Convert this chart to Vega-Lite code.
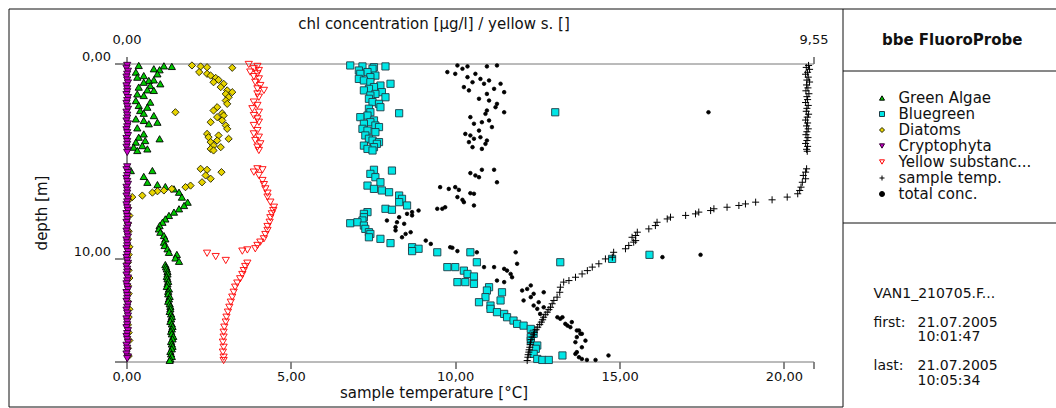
{
"$schema":"https://vega.github.io/schema/vega-lite/v6.json",
"usermeta":{"embedOptions":{"actions":false}},
"padding":{"left":7.5,"top":7.5,"right":0,"bottom":0},
"background":"white",
"config":{"font":"DejaVu Sans","view":{"stroke":null},
"axis":{"labelFont":"DejaVu Sans","labelFontSize":13,"labelColor":"#111","titleFont":"DejaVu Sans","titleFontSize":15,"titleFontWeight":"normal","titleColor":"#111","tickColor":"#111","grid":false,"labelFlush":false}},
"datasets":{
"chl":[
{"series":"Green Algae","depth":0.10,"value":0.17},{"series":"Green Algae","depth":0.12,"value":0.52},{"series":"Green Algae","depth":0.15,"value":0.63},{"series":"Green Algae","depth":0.27,"value":0.38},{"series":"Green Algae","depth":0.32,"value":0.46},{"series":"Green Algae","depth":0.44,"value":0.13},{"series":"Green Algae","depth":0.53,"value":0.43},{"series":"Green Algae","depth":0.62,"value":0.24},{"series":"Green Algae","depth":0.70,"value":0.15},{"series":"Green Algae","depth":0.84,"value":0.38},{"series":"Green Algae","depth":0.87,"value":0.31},{"series":"Green Algae","depth":0.96,"value":0.24},{"series":"Green Algae","depth":1.04,"value":0.47},{"series":"Green Algae","depth":1.13,"value":0.33},{"series":"Green Algae","depth":1.21,"value":0.17},{"series":"Green Algae","depth":1.35,"value":0.29},{"series":"Green Algae","depth":1.38,"value":0.38},{"series":"Green Algae","depth":1.56,"value":0.15},{"series":"Green Algae","depth":1.64,"value":0.24},{"series":"Green Algae","depth":1.90,"value":0.13},{"series":"Green Algae","depth":1.98,"value":0.33},{"series":"Green Algae","depth":2.15,"value":0.17},{"series":"Green Algae","depth":2.24,"value":0.29},{"series":"Green Algae","depth":2.41,"value":0.19},{"series":"Green Algae","depth":2.55,"value":0.24},{"series":"Green Algae","depth":2.67,"value":0.38},{"series":"Green Algae","depth":2.84,"value":0.13},{"series":"Green Algae","depth":2.92,"value":0.24},{"series":"Green Algae","depth":3.01,"value":0.43},{"series":"Green Algae","depth":3.09,"value":0.31},{"series":"Green Algae","depth":3.30,"value":0.15},{"series":"Green Algae","depth":3.61,"value":0.24},{"series":"Green Algae","depth":3.78,"value":0.17},{"series":"Green Algae","depth":3.86,"value":0.46},{"series":"Green Algae","depth":3.95,"value":0.26},{"series":"Green Algae","depth":4.03,"value":0.13},{"series":"Green Algae","depth":4.21,"value":0.22},{"series":"Green Algae","depth":4.29,"value":0.10},{"series":"Green Algae","depth":4.38,"value":0.29},{"series":"Green Algae","depth":4.46,"value":0.15},
{"series":"Green Algae","depth":5.49,"value":0.06},{"series":"Green Algae","depth":5.49,"value":0.36},{"series":"Green Algae","depth":5.79,"value":0.24},{"series":"Green Algae","depth":6.09,"value":0.29},{"series":"Green Algae","depth":6.21,"value":0.43},{"series":"Green Algae","depth":6.31,"value":0.54},{"series":"Green Algae","depth":6.43,"value":0.66},{"series":"Green Algae","depth":6.60,"value":0.73},{"series":"Green Algae","depth":6.85,"value":0.77},{"series":"Green Algae","depth":7.11,"value":0.85},{"series":"Green Algae","depth":7.28,"value":0.80},{"series":"Green Algae","depth":7.45,"value":0.73},{"series":"Green Algae","depth":7.62,"value":0.66},{"series":"Green Algae","depth":7.79,"value":0.59},{"series":"Green Algae","depth":7.97,"value":0.54},{"series":"Green Algae","depth":8.14,"value":0.50},{"series":"Green Algae","depth":8.31,"value":0.46},{"series":"Green Algae","depth":8.48,"value":0.45},{"series":"Green Algae","depth":8.65,"value":0.47},{"series":"Green Algae","depth":8.82,"value":0.52},{"series":"Green Algae","depth":8.99,"value":0.54},{"series":"Green Algae","depth":9.16,"value":0.52},{"series":"Green Algae","depth":9.33,"value":0.53},{"series":"Green Algae","depth":9.50,"value":0.57},{"series":"Green Algae","depth":9.68,"value":0.59},{"series":"Green Algae","depth":9.79,"value":0.70},{"series":"Green Algae","depth":9.97,"value":0.68},{"series":"Green Algae","depth":10.14,"value":0.73},{"series":"Green Algae","depth":10.31,"value":0.54},{"series":"Green Algae","depth":10.42,"value":0.55},{"series":"Green Algae","depth":10.53,"value":0.56},{"series":"Green Algae","depth":10.66,"value":0.57},{"series":"Green Algae","depth":10.79,"value":0.57},{"series":"Green Algae","depth":10.92,"value":0.56},{"series":"Green Algae","depth":11.04,"value":0.57},{"series":"Green Algae","depth":11.17,"value":0.58},{"series":"Green Algae","depth":11.30,"value":0.57},{"series":"Green Algae","depth":11.43,"value":0.56},{"series":"Green Algae","depth":11.56,"value":0.59},{"series":"Green Algae","depth":11.68,"value":0.58},{"series":"Green Algae","depth":11.81,"value":0.58},{"series":"Green Algae","depth":11.94,"value":0.60},{"series":"Green Algae","depth":12.07,"value":0.59},{"series":"Green Algae","depth":12.19,"value":0.58},{"series":"Green Algae","depth":12.32,"value":0.60},{"series":"Green Algae","depth":12.45,"value":0.61},{"series":"Green Algae","depth":12.58,"value":0.61},{"series":"Green Algae","depth":12.71,"value":0.60},{"series":"Green Algae","depth":12.84,"value":0.62},{"series":"Green Algae","depth":12.97,"value":0.63},{"series":"Green Algae","depth":13.09,"value":0.62},{"series":"Green Algae","depth":13.22,"value":0.61},{"series":"Green Algae","depth":13.35,"value":0.63},{"series":"Green Algae","depth":13.48,"value":0.64},{"series":"Green Algae","depth":13.61,"value":0.63},{"series":"Green Algae","depth":13.73,"value":0.62},{"series":"Green Algae","depth":13.86,"value":0.63},{"series":"Green Algae","depth":13.99,"value":0.65},{"series":"Green Algae","depth":14.12,"value":0.64},{"series":"Green Algae","depth":14.25,"value":0.62},{"series":"Green Algae","depth":14.38,"value":0.63},{"series":"Green Algae","depth":14.50,"value":0.64},{"series":"Green Algae","depth":14.63,"value":0.63},{"series":"Green Algae","depth":14.76,"value":0.61},{"series":"Green Algae","depth":14.89,"value":0.62},{"series":"Green Algae","depth":15.02,"value":0.63},{"series":"Green Algae","depth":15.15,"value":0.61},{"series":"Green Algae","depth":15.22,"value":0.60},
{"series":"Bluegreen","depth":0.10,"value":3.11},{"series":"Bluegreen","depth":0.15,"value":3.28},{"series":"Bluegreen","depth":0.19,"value":3.44},{"series":"Bluegreen","depth":0.15,"value":3.60},{"series":"Bluegreen","depth":0.27,"value":3.42},{"series":"Bluegreen","depth":0.36,"value":3.23},{"series":"Bluegreen","depth":0.44,"value":3.35},{"series":"Bluegreen","depth":0.53,"value":3.25},{"series":"Bluegreen","depth":0.62,"value":3.46},{"series":"Bluegreen","depth":0.70,"value":3.39},{"series":"Bluegreen","depth":0.79,"value":3.23},{"series":"Bluegreen","depth":0.87,"value":3.30},{"series":"Bluegreen","depth":0.96,"value":3.39},{"series":"Bluegreen","depth":1.04,"value":3.67},{"series":"Bluegreen","depth":1.13,"value":3.53},{"series":"Bluegreen","depth":1.21,"value":3.44},{"series":"Bluegreen","depth":1.30,"value":3.37},{"series":"Bluegreen","depth":1.38,"value":3.30},{"series":"Bluegreen","depth":1.47,"value":3.55},{"series":"Bluegreen","depth":1.56,"value":3.46},{"series":"Bluegreen","depth":1.64,"value":3.39},{"series":"Bluegreen","depth":1.73,"value":3.60},{"series":"Bluegreen","depth":1.81,"value":3.37},{"series":"Bluegreen","depth":1.98,"value":3.42},{"series":"Bluegreen","depth":2.07,"value":3.51},{"series":"Bluegreen","depth":2.24,"value":3.53},{"series":"Bluegreen","depth":2.32,"value":3.37},{"series":"Bluegreen","depth":2.50,"value":3.39},{"series":"Bluegreen","depth":2.55,"value":3.79},{"series":"Bluegreen","depth":2.50,"value":5.96},{"series":"Bluegreen","depth":2.67,"value":3.35},{"series":"Bluegreen","depth":2.75,"value":3.25},{"series":"Bluegreen","depth":2.92,"value":3.44},{"series":"Bluegreen","depth":3.01,"value":3.39},{"series":"Bluegreen","depth":3.09,"value":3.30},{"series":"Bluegreen","depth":3.18,"value":3.46},{"series":"Bluegreen","depth":3.26,"value":3.51},{"series":"Bluegreen","depth":3.35,"value":3.28},{"series":"Bluegreen","depth":3.44,"value":3.35},{"series":"Bluegreen","depth":3.52,"value":3.46},{"series":"Bluegreen","depth":3.69,"value":3.32},{"series":"Bluegreen","depth":3.86,"value":3.37},{"series":"Bluegreen","depth":3.95,"value":3.42},{"series":"Bluegreen","depth":4.03,"value":3.51},{"series":"Bluegreen","depth":4.12,"value":3.48},{"series":"Bluegreen","depth":4.21,"value":3.30},{"series":"Bluegreen","depth":4.29,"value":3.44},{"series":"Bluegreen","depth":4.38,"value":3.35},{"series":"Bluegreen","depth":4.46,"value":3.42},
{"series":"Bluegreen","depth":5.45,"value":3.44},{"series":"Bluegreen","depth":5.49,"value":3.69},{"series":"Bluegreen","depth":5.66,"value":3.39},{"series":"Bluegreen","depth":5.83,"value":3.46},{"series":"Bluegreen","depth":6.09,"value":3.53},{"series":"Bluegreen","depth":6.26,"value":3.35},{"series":"Bluegreen","depth":6.43,"value":3.44},{"series":"Bluegreen","depth":6.51,"value":3.55},{"series":"Bluegreen","depth":6.60,"value":3.65},{"series":"Bluegreen","depth":6.77,"value":3.79},{"series":"Bluegreen","depth":6.94,"value":3.83},{"series":"Bluegreen","depth":7.11,"value":3.79},{"series":"Bluegreen","depth":7.28,"value":3.90},{"series":"Bluegreen","depth":7.45,"value":3.60},{"series":"Bluegreen","depth":7.50,"value":3.69},{"series":"Bluegreen","depth":7.62,"value":3.35},{"series":"Bluegreen","depth":7.71,"value":3.30},{"series":"Bluegreen","depth":7.88,"value":3.30},{"series":"Bluegreen","depth":8.05,"value":3.28},{"series":"Bluegreen","depth":8.19,"value":3.11},{"series":"Bluegreen","depth":8.14,"value":3.21},{"series":"Bluegreen","depth":8.31,"value":3.30},{"series":"Bluegreen","depth":8.48,"value":3.32},{"series":"Bluegreen","depth":8.65,"value":3.37},{"series":"Bluegreen","depth":8.74,"value":3.39},{"series":"Bluegreen","depth":8.91,"value":3.37},{"series":"Bluegreen","depth":8.99,"value":3.53},{"series":"Bluegreen","depth":9.21,"value":3.67},{"series":"Bluegreen","depth":9.42,"value":3.97},{"series":"Bluegreen","depth":9.50,"value":4.06},{"series":"Bluegreen","depth":9.62,"value":3.97},{"series":"Bluegreen","depth":9.68,"value":4.32},{"series":"Bluegreen","depth":9.68,"value":4.78},{"series":"Bluegreen","depth":9.81,"value":7.27},{"series":"Bluegreen","depth":10.02,"value":6.75},{"series":"Bluegreen","depth":10.19,"value":6.03},{"series":"Bluegreen","depth":10.19,"value":4.87},{"series":"Bluegreen","depth":10.44,"value":4.46},{"series":"Bluegreen","depth":10.44,"value":4.57},{"series":"Bluegreen","depth":10.62,"value":4.69},{"series":"Bluegreen","depth":10.79,"value":4.74},{"series":"Bluegreen","depth":10.92,"value":4.83},{"series":"Bluegreen","depth":11.21,"value":4.60},{"series":"Bluegreen","depth":11.21,"value":4.71},{"series":"Bluegreen","depth":11.30,"value":4.83},{"series":"Bluegreen","depth":11.47,"value":5.04},{"series":"Bluegreen","depth":11.64,"value":5.01},{"series":"Bluegreen","depth":11.73,"value":5.22},{"series":"Bluegreen","depth":11.98,"value":4.99},{"series":"Bluegreen","depth":12.15,"value":5.20},{"series":"Bluegreen","depth":12.24,"value":4.90},{"series":"Bluegreen","depth":12.41,"value":5.06},{"series":"Bluegreen","depth":12.58,"value":5.06},{"series":"Bluegreen","depth":12.75,"value":5.15},{"series":"Bluegreen","depth":12.84,"value":5.25},{"series":"Bluegreen","depth":13.01,"value":5.29},{"series":"Bluegreen","depth":13.18,"value":5.38},{"series":"Bluegreen","depth":13.35,"value":5.43},{"series":"Bluegreen","depth":13.44,"value":5.52},{"series":"Bluegreen","depth":13.61,"value":5.62},{"series":"Bluegreen","depth":13.86,"value":5.66},{"series":"Bluegreen","depth":14.03,"value":5.62},{"series":"Bluegreen","depth":14.21,"value":5.62},{"series":"Bluegreen","depth":14.46,"value":5.71},{"series":"Bluegreen","depth":14.63,"value":5.69},{"series":"Bluegreen","depth":14.89,"value":5.66},{"series":"Bluegreen","depth":14.97,"value":6.06},{"series":"Bluegreen","depth":15.15,"value":5.71},{"series":"Bluegreen","depth":15.20,"value":5.78},{"series":"Bluegreen","depth":15.20,"value":5.87},
{"series":"Diatoms","depth":0.10,"value":0.91},{"series":"Diatoms","depth":0.15,"value":1.03},{"series":"Diatoms","depth":0.19,"value":1.12},{"series":"Diatoms","depth":0.22,"value":1.47},{"series":"Diatoms","depth":0.44,"value":1.01},{"series":"Diatoms","depth":0.53,"value":1.12},{"series":"Diatoms","depth":0.62,"value":1.17},{"series":"Diatoms","depth":0.74,"value":1.24},{"series":"Diatoms","depth":0.84,"value":1.28},{"series":"Diatoms","depth":0.96,"value":1.21},{"series":"Diatoms","depth":1.04,"value":1.35},{"series":"Diatoms","depth":1.21,"value":1.31},{"series":"Diatoms","depth":1.38,"value":1.40},{"series":"Diatoms","depth":1.47,"value":1.47},{"series":"Diatoms","depth":1.56,"value":1.38},{"series":"Diatoms","depth":1.73,"value":1.42},{"series":"Diatoms","depth":1.90,"value":1.38},{"series":"Diatoms","depth":2.07,"value":1.40},{"series":"Diatoms","depth":2.24,"value":1.26},{"series":"Diatoms","depth":2.41,"value":1.21},{"series":"Diatoms","depth":2.50,"value":0.68},{"series":"Diatoms","depth":2.55,"value":1.33},{"series":"Diatoms","depth":2.67,"value":1.35},{"series":"Diatoms","depth":2.75,"value":1.26},{"series":"Diatoms","depth":2.92,"value":1.33},{"series":"Diatoms","depth":3.01,"value":1.17},{"series":"Diatoms","depth":3.18,"value":1.38},{"series":"Diatoms","depth":3.35,"value":1.40},{"series":"Diatoms","depth":3.61,"value":1.12},{"series":"Diatoms","depth":3.69,"value":1.28},{"series":"Diatoms","depth":3.78,"value":1.14},{"series":"Diatoms","depth":3.86,"value":1.42},{"series":"Diatoms","depth":3.95,"value":1.26},{"series":"Diatoms","depth":4.03,"value":1.17},{"series":"Diatoms","depth":4.21,"value":1.21},{"series":"Diatoms","depth":4.29,"value":1.31},{"series":"Diatoms","depth":4.38,"value":1.17},{"series":"Diatoms","depth":4.46,"value":1.21},
{"series":"Diatoms","depth":5.40,"value":1.03},{"series":"Diatoms","depth":5.45,"value":1.12},{"series":"Diatoms","depth":5.57,"value":1.32},{"series":"Diatoms","depth":5.74,"value":1.10},{"series":"Diatoms","depth":5.91,"value":1.17},{"series":"Diatoms","depth":6.09,"value":1.05},{"series":"Diatoms","depth":6.26,"value":0.89},{"series":"Diatoms","depth":6.34,"value":0.82},{"series":"Diatoms","depth":6.43,"value":0.63},{"series":"Diatoms","depth":6.51,"value":0.52},{"series":"Diatoms","depth":6.55,"value":0.43},{"series":"Diatoms","depth":6.62,"value":0.36},{"series":"Diatoms","depth":6.77,"value":0.22},{"series":"Diatoms","depth":6.85,"value":0.08},{"series":"Diatoms","depth":7.0,"value":0.03},{"series":"Diatoms","depth":7.4,"value":0.02},{"series":"Diatoms","depth":7.8,"value":0.04},{"series":"Diatoms","depth":8.2,"value":0.02},{"series":"Diatoms","depth":8.6,"value":0.03},{"series":"Diatoms","depth":9.0,"value":0.02},{"series":"Diatoms","depth":9.4,"value":0.04},{"series":"Diatoms","depth":9.8,"value":0.03},{"series":"Diatoms","depth":10.2,"value":0.02},{"series":"Diatoms","depth":10.6,"value":0.03},{"series":"Diatoms","depth":11.0,"value":0.04},{"series":"Diatoms","depth":11.4,"value":0.02},{"series":"Diatoms","depth":11.8,"value":0.03},{"series":"Diatoms","depth":12.2,"value":0.02},{"series":"Diatoms","depth":12.6,"value":0.04},{"series":"Diatoms","depth":13.0,"value":0.03},{"series":"Diatoms","depth":13.4,"value":0.02},{"series":"Diatoms","depth":13.8,"value":0.03},{"series":"Diatoms","depth":14.2,"value":0.04},{"series":"Diatoms","depth":14.6,"value":0.02},{"series":"Diatoms","depth":15.0,"value":0.03},
{"series":"Cryptophyta","depth":0.10,"value":0.01},{"series":"Cryptophyta","depth":0.25,"value":0.00},{"series":"Cryptophyta","depth":0.40,"value":0.02},{"series":"Cryptophyta","depth":0.55,"value":0.01},{"series":"Cryptophyta","depth":0.70,"value":0.00},{"series":"Cryptophyta","depth":0.85,"value":0.01},{"series":"Cryptophyta","depth":1.00,"value":0.02},{"series":"Cryptophyta","depth":1.15,"value":0.00},{"series":"Cryptophyta","depth":1.30,"value":0.01},{"series":"Cryptophyta","depth":1.45,"value":0.01},{"series":"Cryptophyta","depth":1.60,"value":0.00},{"series":"Cryptophyta","depth":1.75,"value":0.02},{"series":"Cryptophyta","depth":1.90,"value":0.01},{"series":"Cryptophyta","depth":2.05,"value":0.00},{"series":"Cryptophyta","depth":2.20,"value":0.01},{"series":"Cryptophyta","depth":2.35,"value":0.02},{"series":"Cryptophyta","depth":2.50,"value":0.00},{"series":"Cryptophyta","depth":2.65,"value":0.01},{"series":"Cryptophyta","depth":2.80,"value":0.01},{"series":"Cryptophyta","depth":2.95,"value":0.00},{"series":"Cryptophyta","depth":3.10,"value":0.02},{"series":"Cryptophyta","depth":3.25,"value":0.01},{"series":"Cryptophyta","depth":3.40,"value":0.00},{"series":"Cryptophyta","depth":3.55,"value":0.01},{"series":"Cryptophyta","depth":3.70,"value":0.02},{"series":"Cryptophyta","depth":3.85,"value":0.00},{"series":"Cryptophyta","depth":4.00,"value":0.01},{"series":"Cryptophyta","depth":4.15,"value":0.01},{"series":"Cryptophyta","depth":4.30,"value":0.00},{"series":"Cryptophyta","depth":4.45,"value":0.02},{"series":"Cryptophyta","depth":4.56,"value":0.01},
{"series":"Cryptophyta","depth":5.30,"value":0.01},{"series":"Cryptophyta","depth":5.45,"value":0.00},{"series":"Cryptophyta","depth":5.60,"value":0.02},{"series":"Cryptophyta","depth":5.75,"value":0.01},{"series":"Cryptophyta","depth":5.90,"value":0.00},{"series":"Cryptophyta","depth":6.05,"value":0.01},{"series":"Cryptophyta","depth":6.20,"value":0.02},{"series":"Cryptophyta","depth":6.35,"value":0.00},{"series":"Cryptophyta","depth":6.50,"value":0.01},{"series":"Cryptophyta","depth":6.65,"value":0.01},{"series":"Cryptophyta","depth":6.80,"value":0.00},{"series":"Cryptophyta","depth":6.95,"value":0.02},{"series":"Cryptophyta","depth":7.10,"value":0.01},{"series":"Cryptophyta","depth":7.25,"value":0.00},{"series":"Cryptophyta","depth":7.40,"value":0.01},{"series":"Cryptophyta","depth":7.55,"value":0.02},{"series":"Cryptophyta","depth":7.70,"value":0.00},{"series":"Cryptophyta","depth":7.85,"value":0.01},{"series":"Cryptophyta","depth":8.00,"value":0.01},{"series":"Cryptophyta","depth":8.15,"value":0.00},{"series":"Cryptophyta","depth":8.30,"value":0.02},{"series":"Cryptophyta","depth":8.45,"value":0.01},{"series":"Cryptophyta","depth":8.60,"value":0.00},{"series":"Cryptophyta","depth":8.75,"value":0.01},{"series":"Cryptophyta","depth":8.90,"value":0.02},{"series":"Cryptophyta","depth":9.05,"value":0.00},{"series":"Cryptophyta","depth":9.20,"value":0.01},{"series":"Cryptophyta","depth":9.35,"value":0.01},{"series":"Cryptophyta","depth":9.50,"value":0.00},{"series":"Cryptophyta","depth":9.65,"value":0.02},{"series":"Cryptophyta","depth":9.80,"value":0.01},{"series":"Cryptophyta","depth":9.95,"value":0.00},{"series":"Cryptophyta","depth":10.10,"value":0.01},{"series":"Cryptophyta","depth":10.25,"value":0.02},{"series":"Cryptophyta","depth":10.40,"value":0.00},{"series":"Cryptophyta","depth":10.55,"value":0.01},{"series":"Cryptophyta","depth":10.70,"value":0.01},{"series":"Cryptophyta","depth":10.85,"value":0.00},{"series":"Cryptophyta","depth":11.00,"value":0.02},{"series":"Cryptophyta","depth":11.15,"value":0.01},{"series":"Cryptophyta","depth":11.30,"value":0.00},{"series":"Cryptophyta","depth":11.45,"value":0.01},{"series":"Cryptophyta","depth":11.60,"value":0.02},{"series":"Cryptophyta","depth":11.75,"value":0.00},{"series":"Cryptophyta","depth":11.90,"value":0.01},{"series":"Cryptophyta","depth":12.05,"value":0.01},{"series":"Cryptophyta","depth":12.20,"value":0.00},{"series":"Cryptophyta","depth":12.35,"value":0.02},{"series":"Cryptophyta","depth":12.50,"value":0.01},{"series":"Cryptophyta","depth":12.65,"value":0.00},{"series":"Cryptophyta","depth":12.80,"value":0.01},{"series":"Cryptophyta","depth":12.95,"value":0.02},{"series":"Cryptophyta","depth":13.10,"value":0.00},{"series":"Cryptophyta","depth":13.25,"value":0.01},{"series":"Cryptophyta","depth":13.40,"value":0.01},{"series":"Cryptophyta","depth":13.55,"value":0.00},{"series":"Cryptophyta","depth":13.70,"value":0.02},{"series":"Cryptophyta","depth":13.85,"value":0.01},{"series":"Cryptophyta","depth":14.00,"value":0.00},{"series":"Cryptophyta","depth":14.15,"value":0.01},{"series":"Cryptophyta","depth":14.30,"value":0.02},{"series":"Cryptophyta","depth":14.45,"value":0.00},{"series":"Cryptophyta","depth":14.60,"value":0.01},{"series":"Cryptophyta","depth":14.75,"value":0.01},{"series":"Cryptophyta","depth":14.90,"value":0.00},{"series":"Cryptophyta","depth":15.05,"value":0.02},{"series":"Cryptophyta","depth":15.13,"value":0.01},
{"series":"Yellow substance","depth":0.05,"value":1.70},{"series":"Yellow substance","depth":0.15,"value":1.82},{"series":"Yellow substance","depth":0.27,"value":1.77},{"series":"Yellow substance","depth":0.36,"value":1.84},{"series":"Yellow substance","depth":0.44,"value":1.72},{"series":"Yellow substance","depth":0.53,"value":1.82},{"series":"Yellow substance","depth":0.67,"value":1.77},{"series":"Yellow substance","depth":0.79,"value":1.84},{"series":"Yellow substance","depth":0.96,"value":1.79},{"series":"Yellow substance","depth":1.13,"value":1.86},{"series":"Yellow substance","depth":1.30,"value":1.82},{"series":"Yellow substance","depth":1.38,"value":1.91},{"series":"Yellow substance","depth":1.56,"value":1.82},{"series":"Yellow substance","depth":1.73,"value":1.84},{"series":"Yellow substance","depth":1.98,"value":1.77},{"series":"Yellow substance","depth":2.15,"value":1.82},{"series":"Yellow substance","depth":2.32,"value":1.75},{"series":"Yellow substance","depth":2.50,"value":1.84},{"series":"Yellow substance","depth":2.67,"value":1.77},{"series":"Yellow substance","depth":2.84,"value":1.82},{"series":"Yellow substance","depth":3.01,"value":1.84},{"series":"Yellow substance","depth":3.18,"value":1.77},{"series":"Yellow substance","depth":3.44,"value":1.82},{"series":"Yellow substance","depth":3.61,"value":1.77},{"series":"Yellow substance","depth":3.78,"value":1.84},{"series":"Yellow substance","depth":3.95,"value":1.79},{"series":"Yellow substance","depth":4.12,"value":1.86},{"series":"Yellow substance","depth":4.29,"value":1.82},{"series":"Yellow substance","depth":4.46,"value":1.84},
{"series":"Yellow substance","depth":5.40,"value":1.82},{"series":"Yellow substance","depth":5.45,"value":1.89},{"series":"Yellow substance","depth":5.57,"value":1.77},{"series":"Yellow substance","depth":5.74,"value":1.84},{"series":"Yellow substance","depth":6.00,"value":1.89},{"series":"Yellow substance","depth":6.21,"value":1.91},{"series":"Yellow substance","depth":6.43,"value":1.93},{"series":"Yellow substance","depth":6.65,"value":1.96},{"series":"Yellow substance","depth":6.85,"value":1.96},{"series":"Yellow substance","depth":7.11,"value":2.00},{"series":"Yellow substance","depth":7.37,"value":2.05},{"series":"Yellow substance","depth":7.54,"value":2.04},{"series":"Yellow substance","depth":7.71,"value":2.02},{"series":"Yellow substance","depth":7.91,"value":2.00},{"series":"Yellow substance","depth":8.14,"value":1.99},{"series":"Yellow substance","depth":8.36,"value":1.96},{"series":"Yellow substance","depth":8.56,"value":1.96},{"series":"Yellow substance","depth":8.77,"value":1.93},{"series":"Yellow substance","depth":8.99,"value":1.91},{"series":"Yellow substance","depth":9.16,"value":1.86},{"series":"Yellow substance","depth":9.33,"value":1.82},{"series":"Yellow substance","depth":9.50,"value":1.79},{"series":"Yellow substance","depth":9.56,"value":1.68},{"series":"Yellow substance","depth":9.62,"value":1.61},{"series":"Yellow substance","depth":9.73,"value":1.12},{"series":"Yellow substance","depth":9.90,"value":1.24},{"series":"Yellow substance","depth":10.10,"value":1.38},{"series":"Yellow substance","depth":10.24,"value":1.68},{"series":"Yellow substance","depth":10.41,"value":1.65},{"series":"Yellow substance","depth":10.62,"value":1.63},{"series":"Yellow substance","depth":10.82,"value":1.61},{"series":"Yellow substance","depth":11.04,"value":1.58},{"series":"Yellow substance","depth":11.26,"value":1.54},{"series":"Yellow substance","depth":11.47,"value":1.51},{"series":"Yellow substance","depth":11.73,"value":1.49},{"series":"Yellow substance","depth":11.98,"value":1.47},{"series":"Yellow substance","depth":12.24,"value":1.45},{"series":"Yellow substance","depth":12.50,"value":1.43},{"series":"Yellow substance","depth":12.75,"value":1.41},{"series":"Yellow substance","depth":13.01,"value":1.39},{"series":"Yellow substance","depth":13.26,"value":1.38},{"series":"Yellow substance","depth":13.52,"value":1.36},{"series":"Yellow substance","depth":13.78,"value":1.35},{"series":"Yellow substance","depth":14.03,"value":1.35},{"series":"Yellow substance","depth":14.29,"value":1.34},{"series":"Yellow substance","depth":14.55,"value":1.35},{"series":"Yellow substance","depth":14.80,"value":1.34},{"series":"Yellow substance","depth":15.06,"value":1.35},{"series":"Yellow substance","depth":15.23,"value":1.35}
],
"total":[
{"series":"total conc.","depth":0.10,"value":4.60},{"series":"total conc.","depth":0.15,"value":4.74},{"series":"total conc.","depth":0.15,"value":5.01},{"series":"total conc.","depth":0.10,"value":5.15},{"series":"total conc.","depth":0.27,"value":4.67},{"series":"total conc.","depth":0.44,"value":4.46},{"series":"total conc.","depth":0.53,"value":4.57},{"series":"total conc.","depth":0.53,"value":4.85},{"series":"total conc.","depth":0.70,"value":4.74},{"series":"total conc.","depth":0.79,"value":4.92},{"series":"total conc.","depth":0.87,"value":5.04},{"series":"total conc.","depth":0.96,"value":4.81},{"series":"total conc.","depth":1.04,"value":4.97},{"series":"total conc.","depth":1.04,"value":5.20},{"series":"total conc.","depth":1.21,"value":4.69},{"series":"total conc.","depth":1.30,"value":5.11},{"series":"total conc.","depth":1.38,"value":4.76},{"series":"total conc.","depth":1.47,"value":5.25},{"series":"total conc.","depth":1.56,"value":5.01},{"series":"total conc.","depth":1.81,"value":4.90},{"series":"total conc.","depth":1.90,"value":5.04},{"series":"total conc.","depth":2.07,"value":5.15},{"series":"total conc.","depth":2.24,"value":5.13},{"series":"total conc.","depth":2.41,"value":5.01},{"series":"total conc.","depth":2.50,"value":5.25},{"series":"total conc.","depth":2.50,"value":8.09},{"series":"total conc.","depth":2.58,"value":4.99},{"series":"total conc.","depth":2.75,"value":4.78},{"series":"total conc.","depth":2.92,"value":5.04},{"series":"total conc.","depth":3.01,"value":4.94},{"series":"total conc.","depth":3.09,"value":4.83},{"series":"total conc.","depth":3.26,"value":5.08},{"series":"total conc.","depth":3.44,"value":4.90},{"series":"total conc.","depth":3.61,"value":4.71},{"series":"total conc.","depth":3.69,"value":4.78},{"series":"total conc.","depth":3.78,"value":4.92},{"series":"total conc.","depth":3.86,"value":4.83},{"series":"total conc.","depth":3.95,"value":5.01},{"series":"total conc.","depth":4.03,"value":4.76},{"series":"total conc.","depth":4.12,"value":4.99},{"series":"total conc.","depth":4.29,"value":4.81},{"series":"total conc.","depth":4.38,"value":4.94},
{"series":"total conc.","depth":5.45,"value":4.94},{"series":"total conc.","depth":5.45,"value":5.11},{"series":"total conc.","depth":5.62,"value":4.78},{"series":"total conc.","depth":5.74,"value":4.85},{"series":"total conc.","depth":5.83,"value":4.90},{"series":"total conc.","depth":6.09,"value":5.15},{"series":"total conc.","depth":6.34,"value":4.36},{"series":"total conc.","depth":6.43,"value":4.48},{"series":"total conc.","depth":6.34,"value":4.57},{"series":"total conc.","depth":6.48,"value":4.62},{"series":"total conc.","depth":6.65,"value":4.78},{"series":"total conc.","depth":6.68,"value":4.83},{"series":"total conc.","depth":6.85,"value":4.60},{"series":"total conc.","depth":6.99,"value":4.67},{"series":"total conc.","depth":7.11,"value":4.69},{"series":"total conc.","depth":7.28,"value":4.83},{"series":"total conc.","depth":7.37,"value":4.43},{"series":"total conc.","depth":7.45,"value":4.32},{"series":"total conc.","depth":7.45,"value":4.39},{"series":"total conc.","depth":7.54,"value":4.06},{"series":"total conc.","depth":7.62,"value":3.97},{"series":"total conc.","depth":7.71,"value":3.90},{"series":"total conc.","depth":7.79,"value":3.97},{"series":"total conc.","depth":7.88,"value":3.79},{"series":"total conc.","depth":8.05,"value":3.62},{"series":"total conc.","depth":8.14,"value":3.76},{"series":"total conc.","depth":8.22,"value":3.86},{"series":"total conc.","depth":8.39,"value":3.74},{"series":"total conc.","depth":8.56,"value":3.74},{"series":"total conc.","depth":8.65,"value":3.95},{"series":"total conc.","depth":8.74,"value":3.88},{"series":"total conc.","depth":8.91,"value":3.83},{"series":"total conc.","depth":9.08,"value":4.16},{"series":"total conc.","depth":9.25,"value":4.23},{"series":"total conc.","depth":9.42,"value":4.50},{"series":"total conc.","depth":9.45,"value":4.53},{"series":"total conc.","depth":9.62,"value":4.60},{"series":"total conc.","depth":9.68,"value":4.87},{"series":"total conc.","depth":9.68,"value":5.41},{"series":"total conc.","depth":9.93,"value":7.45},{"series":"total conc.","depth":9.81,"value":7.98},{"series":"total conc.","depth":10.27,"value":5.43},{"series":"total conc.","depth":10.44,"value":4.97},{"series":"total conc.","depth":10.44,"value":5.11},{"series":"total conc.","depth":10.53,"value":5.25},{"series":"total conc.","depth":10.62,"value":5.29},{"series":"total conc.","depth":10.79,"value":5.34},{"series":"total conc.","depth":10.96,"value":5.36},{"series":"total conc.","depth":11.13,"value":5.15},{"series":"total conc.","depth":11.21,"value":5.25},{"series":"total conc.","depth":11.38,"value":5.62},{"series":"total conc.","depth":11.56,"value":5.57},{"series":"total conc.","depth":11.64,"value":5.50},{"series":"total conc.","depth":11.73,"value":5.80},{"series":"total conc.","depth":11.81,"value":5.66},{"series":"total conc.","depth":11.98,"value":5.62},{"series":"total conc.","depth":12.15,"value":5.52},{"series":"total conc.","depth":12.24,"value":5.73},{"series":"total conc.","depth":12.41,"value":5.66},{"series":"total conc.","depth":12.50,"value":5.80},{"series":"total conc.","depth":12.58,"value":5.71},{"series":"total conc.","depth":12.84,"value":5.75},{"series":"total conc.","depth":13.01,"value":5.99},{"series":"total conc.","depth":13.09,"value":6.03},{"series":"total conc.","depth":13.26,"value":6.19},{"series":"total conc.","depth":13.44,"value":6.13},{"series":"total conc.","depth":13.69,"value":6.26},{"series":"total conc.","depth":13.01,"value":6.06},{"series":"total conc.","depth":13.35,"value":6.10},{"series":"total conc.","depth":13.52,"value":6.17},{"series":"total conc.","depth":13.69,"value":6.29},{"series":"total conc.","depth":13.86,"value":6.33},{"series":"total conc.","depth":14.03,"value":6.26},{"series":"total conc.","depth":14.21,"value":6.38},{"series":"total conc.","depth":14.29,"value":6.24},{"series":"total conc.","depth":14.55,"value":6.33},{"series":"total conc.","depth":14.89,"value":6.24},{"series":"total conc.","depth":14.97,"value":6.70},{"series":"total conc.","depth":15.15,"value":6.33},{"series":"total conc.","depth":15.20,"value":6.40},{"series":"total conc.","depth":15.20,"value":6.52},{"series":"total conc.","depth":13.86,"value":6.31},{"series":"total conc.","depth":14.80,"value":6.26},{"series":"total conc.","depth":15.06,"value":6.29}
],
"temp":[
{"series":"sample temp.","depth":0.10,"value":20.75},{"series":"sample temp.","depth":0.20,"value":20.68},{"series":"sample temp.","depth":0.30,"value":20.78},{"series":"sample temp.","depth":0.45,"value":20.72},{"series":"sample temp.","depth":0.55,"value":20.66},{"series":"sample temp.","depth":0.70,"value":20.74},{"series":"sample temp.","depth":0.85,"value":20.70},{"series":"sample temp.","depth":0.95,"value":20.78},{"series":"sample temp.","depth":1.10,"value":20.69},{"series":"sample temp.","depth":1.25,"value":20.73},{"series":"sample temp.","depth":1.40,"value":20.67},{"series":"sample temp.","depth":1.55,"value":20.76},{"series":"sample temp.","depth":1.70,"value":20.70},{"series":"sample temp.","depth":1.85,"value":20.72},{"series":"sample temp.","depth":2.00,"value":20.66},{"series":"sample temp.","depth":2.15,"value":20.74},{"series":"sample temp.","depth":2.30,"value":20.70},{"series":"sample temp.","depth":2.45,"value":20.68},{"series":"sample temp.","depth":2.60,"value":20.75},{"series":"sample temp.","depth":2.75,"value":20.71},{"series":"sample temp.","depth":2.90,"value":20.66},{"series":"sample temp.","depth":3.05,"value":20.72},{"series":"sample temp.","depth":3.20,"value":20.69},{"series":"sample temp.","depth":3.35,"value":20.74},{"series":"sample temp.","depth":3.50,"value":20.70},{"series":"sample temp.","depth":3.65,"value":20.67},{"series":"sample temp.","depth":3.80,"value":20.73},{"series":"sample temp.","depth":3.95,"value":20.70},{"series":"sample temp.","depth":4.10,"value":20.66},{"series":"sample temp.","depth":4.25,"value":20.72},{"series":"sample temp.","depth":4.40,"value":20.69},{"series":"sample temp.","depth":4.50,"value":20.71},
{"series":"sample temp.","depth":5.40,"value":20.69},{"series":"sample temp.","depth":5.57,"value":20.66},{"series":"sample temp.","depth":5.74,"value":20.59},{"series":"sample temp.","depth":5.91,"value":20.66},{"series":"sample temp.","depth":6.09,"value":20.56},{"series":"sample temp.","depth":6.34,"value":20.52},{"series":"sample temp.","depth":6.51,"value":20.48},{"series":"sample temp.","depth":6.68,"value":20.42},{"series":"sample temp.","depth":6.85,"value":20.10},{"series":"sample temp.","depth":6.99,"value":19.64},{"series":"sample temp.","depth":7.11,"value":19.14},{"series":"sample temp.","depth":7.20,"value":18.83},{"series":"sample temp.","depth":7.28,"value":18.63},{"series":"sample temp.","depth":7.37,"value":18.27},{"series":"sample temp.","depth":7.45,"value":17.87},{"series":"sample temp.","depth":7.54,"value":17.77},{"series":"sample temp.","depth":7.62,"value":17.41},{"series":"sample temp.","depth":7.71,"value":17.31},{"series":"sample temp.","depth":7.79,"value":17.01},{"series":"sample temp.","depth":7.88,"value":16.55},{"series":"sample temp.","depth":7.97,"value":16.45},{"series":"sample temp.","depth":8.14,"value":16.14},{"series":"sample temp.","depth":8.31,"value":16.09},{"series":"sample temp.","depth":8.48,"value":15.89},{"series":"sample temp.","depth":8.65,"value":15.54},{"series":"sample temp.","depth":8.82,"value":15.49},{"series":"sample temp.","depth":8.91,"value":15.38},{"series":"sample temp.","depth":9.08,"value":15.49},{"series":"sample temp.","depth":9.16,"value":15.43},{"series":"sample temp.","depth":9.33,"value":15.28},{"series":"sample temp.","depth":9.50,"value":15.18},{"series":"sample temp.","depth":9.68,"value":14.82},{"series":"sample temp.","depth":9.93,"value":14.78},{"series":"sample temp.","depth":10.02,"value":14.57},{"series":"sample temp.","depth":10.27,"value":14.37},{"series":"sample temp.","depth":10.44,"value":14.17},{"series":"sample temp.","depth":10.62,"value":14.02},{"series":"sample temp.","depth":10.79,"value":13.86},{"series":"sample temp.","depth":10.96,"value":13.66},{"series":"sample temp.","depth":11.13,"value":13.46},{"series":"sample temp.","depth":11.21,"value":13.30},{"series":"sample temp.","depth":11.47,"value":13.20},{"series":"sample temp.","depth":11.73,"value":13.18},{"series":"sample temp.","depth":11.98,"value":13.10},{"series":"sample temp.","depth":12.15,"value":13.00},{"series":"sample temp.","depth":12.32,"value":12.95},{"series":"sample temp.","depth":12.50,"value":12.90},{"series":"sample temp.","depth":12.62,"value":12.85},{"series":"sample temp.","depth":12.75,"value":12.80},{"series":"sample temp.","depth":12.88,"value":12.74},{"series":"sample temp.","depth":13.01,"value":12.69},{"series":"sample temp.","depth":13.14,"value":12.66},{"series":"sample temp.","depth":13.26,"value":12.62},{"series":"sample temp.","depth":13.39,"value":12.57},{"series":"sample temp.","depth":13.52,"value":12.51},{"series":"sample temp.","depth":13.65,"value":12.46},{"series":"sample temp.","depth":13.78,"value":12.41},{"series":"sample temp.","depth":13.91,"value":12.38},{"series":"sample temp.","depth":14.03,"value":12.34},{"series":"sample temp.","depth":14.16,"value":12.31},{"series":"sample temp.","depth":14.29,"value":12.29},{"series":"sample temp.","depth":14.42,"value":12.28},{"series":"sample temp.","depth":14.55,"value":12.27},{"series":"sample temp.","depth":14.68,"value":12.25},{"series":"sample temp.","depth":14.80,"value":12.24},{"series":"sample temp.","depth":14.93,"value":12.22},{"series":"sample temp.","depth":15.06,"value":12.21},{"series":"sample temp.","depth":15.23,"value":12.19}
],
"info":[
{"line":1,"col":"label","text":"VAN1_210705.F..."},
{"line":3,"col":"label","text":"first:"},
{"line":3,"col":"stamp","text":"21.07.2005"},
{"line":4,"col":"stamp","text":"10:01:47"},
{"line":6,"col":"label","text":"last:"},
{"line":6,"col":"stamp","text":"21.07.2005"},
{"line":7,"col":"stamp","text":"10:05:34"}
]},
"hconcat":[
{"width":834,"height":398,"view":{"stroke":"#111"},
"layer":[
{"layer":[
{"data":{"name":"chl"},"mark":{"type":"point","filled":true,"opacity":1,"size":52,"strokeWidth":0.9},
"encoding":{
"x":{"field":"value","type":"quantitative","scale":{"domain":[0,9.55],"range":[118,805],"nice":false,"zero":false},"axis":{"orient":"top","offset":-55,"values":[0,9.55],"labelExpr":"replace(format(datum.value,'.2f'),'.',',')","tickSize":7,"labelPadding":10,"domainColor":"#777","title":"chl concentration [µg/l] / yellow s. []","titleX":425,"titlePadding":2}},
"y":{"field":"depth","type":"quantitative","scale":{"domain":[0,15.28],"range":[55,353],"nice":false,"zero":false},"axis":{"offset":-118,"values":[0,10,15.28],"labelExpr":"datum.value > 15 ? '' : replace(format(datum.value,'.2f'),'.',',')","tickSize":12,"labelPadding":4,"labelBaseline":"bottom","domainColor":"#111","title":"depth [m]","titlePadding":24}},
"fill":{"field":"series","type":"nominal","scale":{"domain":["Green Algae","Bluegreen","Diatoms","Cryptophyta","Yellow substance","sample temp.","total conc."],"range":["#00c800","#00e6e6","#e8d400","#c800c8","transparent","#000000","#000000"]},"legend":{"title":null,"orient":"none","legendX":866,"legendY":82,"padding":0,"labelFontSize":15,"labelColor":"#111","symbolSize":25,"symbolStrokeWidth":1,"labelOffset":9,"rowPadding":0,"labelLimit":400,"labelExpr":"length(datum.label) > 15 ? substring(datum.label, 0, 15) + '...' : datum.label"}},
"stroke":{"field":"series","type":"nominal","scale":{"domain":["Green Algae","Bluegreen","Diatoms","Cryptophyta","Yellow substance","sample temp.","total conc."],"range":["#000000","#1e3c46","#202000","#300030","#ff0000","#000000","#000000"]},"legend":{"title":null,"orient":"none","legendX":866,"legendY":82,"padding":0,"labelFontSize":15,"labelColor":"#111","symbolSize":25,"symbolStrokeWidth":1,"labelOffset":9,"rowPadding":0,"labelLimit":400,"labelExpr":"length(datum.label) > 15 ? substring(datum.label, 0, 15) + '...' : datum.label"}},
"shape":{"field":"series","type":"nominal","scale":{"domain":["Green Algae","Bluegreen","Diatoms","Cryptophyta","Yellow substance","sample temp.","total conc."],"range":["triangle-up","square","diamond","triangle-down","triangle-down","M-1,0H1M0,-1V1","circle"]},"legend":{"title":null,"orient":"none","legendX":866,"legendY":82,"padding":0,"labelFontSize":15,"labelColor":"#111","symbolSize":25,"symbolStrokeWidth":1,"labelOffset":9,"rowPadding":0,"labelLimit":400,"labelExpr":"length(datum.label) > 15 ? substring(datum.label, 0, 15) + '...' : datum.label"}}
}},
{"data":{"name":"total"},"mark":{"type":"point","filled":true,"opacity":1,"size":13,"strokeWidth":0.8},
"encoding":{
"x":{"field":"value","type":"quantitative","scale":{"domain":[0,9.55],"range":[118,805],"nice":false,"zero":false},"axis":{"orient":"top","offset":-55,"values":[0,9.55],"labelExpr":"replace(format(datum.value,'.2f'),'.',',')","tickSize":7,"labelPadding":10,"domainColor":"#777","title":"chl concentration [µg/l] / yellow s. []","titleX":425,"titlePadding":2}},
"y":{"field":"depth","type":"quantitative","scale":{"domain":[0,15.28],"range":[55,353],"nice":false,"zero":false},"axis":{"offset":-118,"values":[0,10,15.28],"labelExpr":"datum.value > 15 ? '' : replace(format(datum.value,'.2f'),'.',',')","tickSize":12,"labelPadding":4,"labelBaseline":"bottom","domainColor":"#111","title":"depth [m]","titlePadding":24}},
"fill":{"field":"series","type":"nominal","scale":{"domain":["Green Algae","Bluegreen","Diatoms","Cryptophyta","Yellow substance","sample temp.","total conc."],"range":["#00c800","#00e6e6","#e8d400","#c800c8","transparent","#000000","#000000"]},"legend":{"title":null,"orient":"none","legendX":866,"legendY":82,"padding":0,"labelFontSize":15,"labelColor":"#111","symbolSize":25,"symbolStrokeWidth":1,"labelOffset":9,"rowPadding":0,"labelLimit":400,"labelExpr":"length(datum.label) > 15 ? substring(datum.label, 0, 15) + '...' : datum.label"}},
"stroke":{"field":"series","type":"nominal","scale":{"domain":["Green Algae","Bluegreen","Diatoms","Cryptophyta","Yellow substance","sample temp.","total conc."],"range":["#000000","#1e3c46","#202000","#300030","#ff0000","#000000","#000000"]},"legend":{"title":null,"orient":"none","legendX":866,"legendY":82,"padding":0,"labelFontSize":15,"labelColor":"#111","symbolSize":25,"symbolStrokeWidth":1,"labelOffset":9,"rowPadding":0,"labelLimit":400,"labelExpr":"length(datum.label) > 15 ? substring(datum.label, 0, 15) + '...' : datum.label"}},
"shape":{"field":"series","type":"nominal","scale":{"domain":["Green Algae","Bluegreen","Diatoms","Cryptophyta","Yellow substance","sample temp.","total conc."],"range":["triangle-up","square","diamond","triangle-down","triangle-down","M-1,0H1M0,-1V1","circle"]},"legend":{"title":null,"orient":"none","legendX":866,"legendY":82,"padding":0,"labelFontSize":15,"labelColor":"#111","symbolSize":25,"symbolStrokeWidth":1,"labelOffset":9,"rowPadding":0,"labelLimit":400,"labelExpr":"length(datum.label) > 15 ? substring(datum.label, 0, 15) + '...' : datum.label"}}
}}
]},
{"data":{"name":"temp"},"mark":{"type":"point","filled":true,"opacity":1,"size":50,"strokeWidth":1},
"encoding":{
"x":{"field":"value","type":"quantitative","scale":{"domain":[0,20.9],"range":[118,805],"nice":false,"zero":false},"axis":{"orient":"bottom","offset":-45,"values":[0,5,10,15,20,20.9],"labelExpr":"datum.value > 20.5 ? '' : replace(format(datum.value,'.2f'),'.',',')","tickSize":7,"labelPadding":2,"domainColor":"#777","title":"sample temperature [°C]","titleX":425,"titlePadding":2}},
"y":{"field":"depth","type":"quantitative","scale":{"domain":[0,15.28],"range":[55,353],"nice":false,"zero":false},"axis":{"offset":-118,"values":[0,10,15.28],"labelExpr":"datum.value > 15 ? '' : replace(format(datum.value,'.2f'),'.',',')","tickSize":12,"labelPadding":4,"labelBaseline":"bottom","domainColor":"#111","title":"depth [m]","titlePadding":24}},
"fill":{"field":"series","type":"nominal","scale":{"domain":["Green Algae","Bluegreen","Diatoms","Cryptophyta","Yellow substance","sample temp.","total conc."],"range":["#00c800","#00e6e6","#e8d400","#c800c8","transparent","#000000","#000000"]},"legend":{"title":null,"orient":"none","legendX":866,"legendY":82,"padding":0,"labelFontSize":15,"labelColor":"#111","symbolSize":25,"symbolStrokeWidth":1,"labelOffset":9,"rowPadding":0,"labelLimit":400,"labelExpr":"length(datum.label) > 15 ? substring(datum.label, 0, 15) + '...' : datum.label"}},
"stroke":{"field":"series","type":"nominal","scale":{"domain":["Green Algae","Bluegreen","Diatoms","Cryptophyta","Yellow substance","sample temp.","total conc."],"range":["#000000","#1e3c46","#202000","#300030","#ff0000","#000000","#000000"]},"legend":{"title":null,"orient":"none","legendX":866,"legendY":82,"padding":0,"labelFontSize":15,"labelColor":"#111","symbolSize":25,"symbolStrokeWidth":1,"labelOffset":9,"rowPadding":0,"labelLimit":400,"labelExpr":"length(datum.label) > 15 ? substring(datum.label, 0, 15) + '...' : datum.label"}},
"shape":{"field":"series","type":"nominal","scale":{"domain":["Green Algae","Bluegreen","Diatoms","Cryptophyta","Yellow substance","sample temp.","total conc."],"range":["triangle-up","square","diamond","triangle-down","triangle-down","M-1,0H1M0,-1V1","circle"]},"legend":{"title":null,"orient":"none","legendX":866,"legendY":82,"padding":0,"labelFontSize":15,"labelColor":"#111","symbolSize":25,"symbolStrokeWidth":1,"labelOffset":9,"rowPadding":0,"labelLimit":400,"labelExpr":"length(datum.label) > 15 ? substring(datum.label, 0, 15) + '...' : datum.label"}}
}}
],
"resolve":{"scale":{"x":"independent"}}
},
{"vconcat":[
{"width":213,"height":62,"data":{"values":[{"label":"bbe FluoroProbe"}]},"mark":{"type":"text","fontSize":15,"fontWeight":"bold","color":"#111"},
"encoding":{"text":{"field":"label"},"x":{"datum":0.515,"type":"quantitative","scale":{"domain":[0,1]},"axis":{"orient":"top","domain":true,"domainColor":"#111","ticks":false,"labels":false,"grid":false,"title":null}}}},
{"width":213,"height":152,"data":{"values":[{"label":""}]},"mark":{"type":"text"},
"encoding":{"text":{"field":"label"},"x":{"datum":0.5,"type":"quantitative","scale":{"domain":[0,1]},"axis":{"orient":"top","domain":true,"domainColor":"#111","ticks":false,"labels":false,"grid":false,"title":null}}}},
{"width":213,"height":184,"data":{"name":"info"},
"layer":[
{"transform":[{"filter":"datum.col == 'label'"}],
"mark":{"type":"text","align":"left","baseline":"middle","fontSize":14,"color":"#111"},
"encoding":{"text":{"field":"text"},"x":{"datum":0.1455,"type":"quantitative","scale":{"domain":[0,1]},"axis":{"orient":"top","domain":true,"domainColor":"#111","ticks":false,"labels":false,"grid":false,"title":null}},"y":{"field":"line","type":"quantitative","scale":{"domain":[-3.9,8.79],"reverse":true,"nice":false,"zero":false},"axis":null}}},
{"transform":[{"filter":"datum.col == 'stamp'"}],
"mark":{"type":"text","align":"left","baseline":"middle","fontSize":14,"color":"#111"},
"encoding":{"text":{"field":"text"},"x":{"datum":0.352,"type":"quantitative","scale":{"domain":[0,1]},"axis":{"orient":"top","domain":true,"domainColor":"#111","ticks":false,"labels":false,"grid":false,"title":null}},"y":{"field":"line","type":"quantitative","scale":{"domain":[-3.9,8.79],"reverse":true,"nice":false,"zero":false},"axis":null}}}
]}
],"spacing":0,"bounds":"flush"}
],
"spacing":0,
"bounds":"flush"
}
